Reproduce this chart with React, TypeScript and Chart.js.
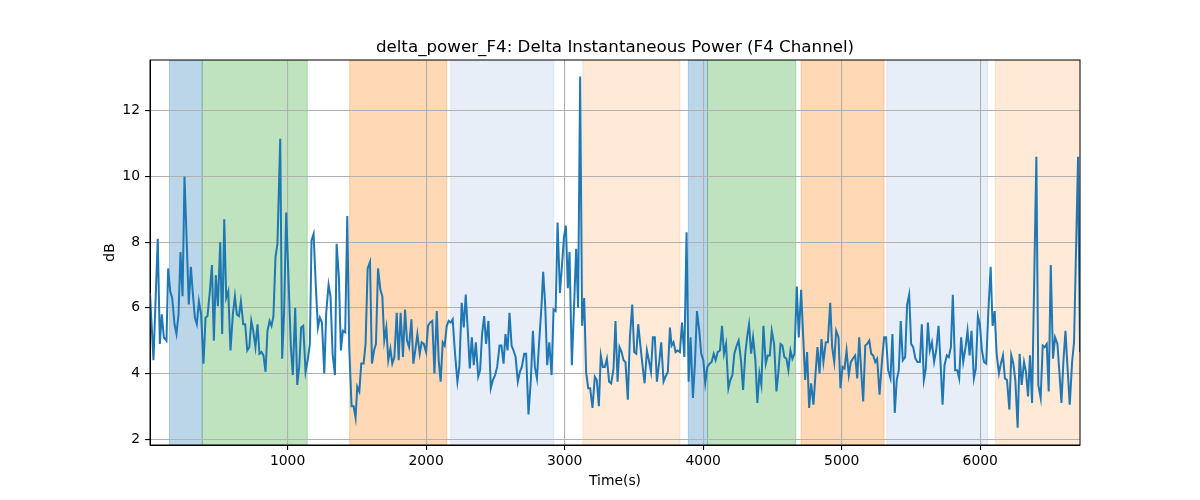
import React, { useEffect, useRef } from "react";
import { Chart, registerables, Plugin } from "chart.js";

Chart.register(...registerables);

const times: number[] = [
  7, 32, 63, 78, 92, 107, 126, 138, 153, 167, 184, 198, 213, 227, 242, 256, 273, 287, 302, 316,
  331, 345, 360, 376, 393, 408, 422, 439, 454, 468, 482, 497, 514, 528, 543, 557, 572, 588, 605, 620,
  634, 649, 663, 680, 694, 709, 724, 738, 752, 768, 783, 797, 812, 826, 841, 855, 870, 884, 898, 913,
  927, 947, 961, 975, 990, 1007, 1024, 1038, 1055, 1070, 1084, 1098, 1113, 1130, 1147, 1161, 1173, 1188, 1204, 1219,
  1233, 1248, 1265, 1279, 1296, 1310, 1325, 1342, 1354, 1370, 1385, 1399, 1416, 1431, 1445, 1462, 1477, 1491, 1503, 1518,
  1532, 1549, 1563, 1578, 1595, 1609, 1624, 1638, 1653, 1670, 1684, 1698, 1713, 1727, 1742, 1756, 1771, 1788, 1802, 1816,
  1833, 1848, 1862, 1877, 1894, 1908, 1922, 1937, 1954, 1968, 1983, 2000, 2014, 2028, 2045, 2060, 2077, 2091, 2105, 2120,
  2134, 2149, 2163, 2178, 2192, 2207, 2226, 2240, 2257, 2272, 2286, 2301, 2315, 2330, 2344, 2359, 2376, 2390, 2404, 2419,
  2433, 2450, 2467, 2482, 2498, 2513, 2530, 2544, 2559, 2573, 2588, 2602, 2617, 2631, 2646, 2662, 2677, 2691, 2708, 2722,
  2739, 2756, 2771, 2785, 2800, 2816, 2833, 2845, 2860, 2874, 2889, 2906, 2920, 2935, 2949, 2966, 2980, 2995, 3009, 3023,
  3035, 3052, 3068, 3083, 3097, 3112, 3126, 3141, 3155, 3170, 3184, 3201, 3218, 3232, 3247, 3261, 3276, 3290, 3305, 3321,
  3336, 3353, 3367, 3382, 3396, 3411, 3425, 3439, 3456, 3471, 3488, 3502, 3517, 3531, 3548, 3562, 3577, 3594, 3608, 3623,
  3637, 3651, 3666, 3683, 3697, 3714, 3728, 3745, 3760, 3772, 3786, 3801, 3815, 3832, 3847, 3864, 3880, 3895, 3909, 3926,
  3941, 3955, 3972, 3986, 4001, 4015, 4030, 4047, 4061, 4076, 4090, 4105, 4121, 4136, 4150, 4165, 4182, 4196, 4211, 4225,
  4242, 4256, 4273, 4288, 4304, 4317, 4331, 4346, 4360, 4377, 4391, 4406, 4420, 4435, 4452, 4466, 4481, 4495, 4512, 4529,
  4543, 4558, 4572, 4586, 4601, 4615, 4630, 4644, 4659, 4676, 4690, 4707, 4721, 4736, 4750, 4765, 4779, 4796, 4811, 4825,
  4840, 4854, 4868, 4885, 4900, 4917, 4931, 4946, 4960, 4977, 4991, 5006, 5020, 5035, 5051, 5066, 5080, 5097, 5112, 5126,
  5141, 5155, 5170, 5184, 5199, 5213, 5227, 5242, 5256, 5273, 5291, 5306, 5320, 5335, 5352, 5366, 5383, 5397, 5412, 5426,
  5441, 5458, 5472, 5487, 5501, 5516, 5532, 5547, 5564, 5578, 5593, 5607, 5622, 5636, 5651, 5667, 5682, 5699, 5713, 5728,
  5742, 5759, 5773, 5788, 5802, 5819, 5834, 5848, 5862, 5877, 5894, 5908, 5923, 5937, 5954, 5968, 5983, 5997, 6012, 6027,
  6043, 6058, 6075, 6089, 6104, 6118, 6135, 6149, 6164, 6178, 6193, 6210, 6224, 6239, 6253, 6270, 6284, 6299, 6316, 6330,
  6345, 6359, 6374, 6405, 6419, 6436, 6451, 6465, 6480, 6494, 6509, 6525, 6540, 6557, 6571, 6586, 6600, 6615, 6631, 6646,
  6663, 6677, 6706, 6720,
];

const power: number[] = [
  6.45, 4.4, 8.1, 4.9, 5.8, 5.1, 5.0, 7.2, 6.5, 6.3, 5.5, 5.2, 5.8, 7.7, 6.35, 10.0, 7.9, 6.1, 7.25, 6.45,
  5.7, 5.5, 6.2, 5.8, 4.3, 5.7, 5.75, 6.5, 7.3, 5.0, 7.0, 6.05, 8.0, 5.2, 8.7, 6.3, 6.5, 4.7, 5.8, 6.35,
  5.8, 5.75, 6.2, 5.5, 5.5, 4.7, 4.8, 5.6, 5.3, 4.8, 5.5, 4.6, 4.65, 4.55, 4.05, 5.3, 5.6, 5.45, 5.75, 7.55,
  7.95, 11.15, 4.45, 5.85, 8.9, 6.85, 4.8, 3.95, 6.0, 3.65, 4.2, 5.4, 5.45, 4.05, 4.45, 4.9, 8.05, 8.25, 6.65, 5.4,
  5.7, 5.55, 4.0, 5.85, 6.7, 6.35, 4.6, 3.95, 7.95, 6.95, 4.7, 5.3, 5.25, 8.8, 4.8, 3.0, 3.0, 2.65, 3.6, 3.45,
  4.3, 4.3, 4.9, 7.2, 7.4, 4.3, 4.7, 4.9, 7.2, 6.55, 6.35, 5.0, 5.4, 4.4, 4.75, 4.3, 4.5, 5.85, 4.4, 5.85,
  4.5, 5.95, 5.0, 4.8, 5.65, 4.3, 4.7, 5.2, 4.6, 4.95, 4.9, 4.65, 5.45, 5.55, 5.6, 4.0, 5.9, 4.4, 3.75, 4.95,
  4.85, 5.45, 5.6, 5.55, 5.65, 4.7, 3.75, 4.2, 6.15, 5.4, 6.4, 5.3, 4.15, 5.1, 4.25, 4.95, 3.9, 4.1, 5.2, 5.75,
  4.9, 5.6, 3.55, 3.8, 3.95, 4.2, 4.85, 4.85, 4.3, 5.2, 4.7, 5.85, 4.85, 4.7, 4.5, 3.75, 4.05, 4.2, 4.6, 4.6,
  2.75, 3.8, 5.3, 4.2, 3.85, 4.95, 6.05, 7.1, 6.05, 4.25, 4.95, 3.95, 5.95, 5.9, 8.6, 6.45, 7.25, 8.15, 8.5, 6.6,
  7.7, 4.25, 6.05, 7.8, 6.0, 13.05, 5.45, 6.3, 4.05, 3.55, 3.55, 2.95, 3.9, 3.8, 3.0, 4.55, 4.2, 4.2, 4.45, 3.75,
  3.7, 4.15, 5.6, 3.75, 4.8, 4.65, 4.4, 4.35, 3.2, 5.1, 6.1, 4.65, 4.6, 5.5, 4.8, 4.25, 3.7, 4.7, 4.4, 4.05,
  5.1, 5.1, 3.75, 4.35, 4.95, 3.75, 3.9, 4.05, 5.4, 4.85, 4.95, 4.65, 4.7, 4.65, 5.55, 4.5, 8.3, 3.75, 5.1, 3.25,
  4.35, 5.9, 5.3, 4.6, 4.4, 3.7, 4.2, 4.3, 4.35, 4.6, 4.4, 4.65, 4.7, 5.45, 4.6, 4.9, 3.55, 3.8, 3.95, 4.6,
  4.85, 5.0, 4.4, 3.5, 4.6, 5.1, 5.5, 4.6, 5.1, 4.4, 3.1, 4.0, 3.65, 5.45, 4.3, 4.55, 4.55, 5.3, 4.9, 3.45,
  4.05, 4.9, 4.85, 4.5, 4.45, 4.1, 4.7, 4.45, 4.6, 6.65, 5.1, 6.55, 5.2, 3.8, 4.65, 2.95, 3.7, 3.05, 4.0, 4.8,
  4.0, 5.05, 4.35, 4.95, 4.95, 6.15, 4.8, 4.35, 5.3, 5.1, 3.55, 4.2, 4.15, 4.7, 3.95, 4.35, 4.45, 4.55, 3.85, 5.1,
  4.05, 3.15, 4.85, 4.9, 5.0, 4.6, 4.55, 4.35, 4.45, 3.35, 4.4, 5.1, 5.1, 4.1, 3.85, 5.2, 2.8, 3.8, 4.1, 5.6,
  4.4, 4.5, 6.1, 6.4, 4.9, 4.8, 4.45, 4.35, 4.35, 5.5, 3.8, 4.15, 5.55, 4.7, 4.95, 4.35, 4.7, 5.45, 4.35, 3.05,
  4.25, 4.55, 4.5, 4.8, 6.4, 4.1, 4.1, 3.85, 5.1, 4.35, 4.8, 5.3, 4.55, 5.3, 3.85, 4.15, 5.75, 5.5, 4.7, 4.35,
  4.3, 5.85, 7.25, 5.45, 5.9, 4.6, 4.0, 4.3, 4.55, 3.85, 3.8, 2.9, 4.55, 4.3, 3.8, 2.35, 4.6, 3.65, 4.35, 4.05,
  3.3, 4.55, 3.1, 10.6, 3.65, 3.25, 4.85, 4.8, 4.9, 3.45, 7.3, 4.45, 5.1, 4.9, 4.05, 3.1, 4.35, 5.3, 4.1, 3.05,
  4.35, 4.95, 10.6, 4.65,
];

const xTicks: number[] = [1000, 2000, 3000, 4000, 5000, 6000];
const yTicks: number[] = [2, 4, 6, 8, 10, 12];

// shaded stage intervals [start, end] in seconds
const spanStarts: number[] = [147, 384, 1448, 2178, 3131, 3893, 4032, 4707, 5326, 6108];
const spanEnds: number[] = [384, 1142, 2149, 2922, 3832, 4032, 4668, 5306, 6053, 6730];
const spanColors: string[] = [
  "rgba(31,119,180,0.3)",
  "rgba(44,160,44,0.3)",
  "rgba(255,127,14,0.3)",
  "rgba(174,199,232,0.3)",
  "rgba(255,127,14,0.16)",
  "rgba(31,119,180,0.3)",
  "rgba(44,160,44,0.3)",
  "rgba(255,127,14,0.3)",
  "rgba(174,199,232,0.3)",
  "rgba(255,127,14,0.16)",
];

const FONT = "'DejaVu Sans', sans-serif";

const spansPlugin: Plugin<"line"> = {
  id: "spans",
  beforeDraw(chart) {
    const { ctx, chartArea, scales } = chart;
    const x = scales.x;
    ctx.save();
    ctx.beginPath();
    ctx.rect(chartArea.left, chartArea.top, chartArea.right - chartArea.left, chartArea.bottom - chartArea.top);
    ctx.clip();
    spanStarts.forEach((s, i) => {
      const x0 = x.getPixelForValue(s);
      const x1 = x.getPixelForValue(spanEnds[i]);
      ctx.fillStyle = spanColors[i];
      ctx.strokeStyle = spanColors[i];
      ctx.lineWidth = 1;
      ctx.fillRect(x0, chartArea.top, x1 - x0, chartArea.bottom - chartArea.top);
      ctx.strokeRect(x0, chartArea.top, x1 - x0, chartArea.bottom - chartArea.top);
    });
    ctx.restore();
  },
};

const labelsPlugin: Plugin<"line"> = {
  id: "labels",
  afterDraw(chart) {
    const { ctx, chartArea } = chart;
    const cx = (chartArea.left + chartArea.right) / 2;
    const cy = (chartArea.top + chartArea.bottom) / 2;
    ctx.save();
    // spines
    ctx.strokeStyle = "#000";
    ctx.lineWidth = 1;
    ctx.strokeRect(chartArea.left, chartArea.top, chartArea.right - chartArea.left, chartArea.bottom - chartArea.top);
    ctx.fillStyle = "#000";
    ctx.textAlign = "center";
    ctx.font = `16.7px ${FONT}`;
    ctx.textBaseline = "alphabetic";
    ctx.fillText("delta_power_F4: Delta Instantaneous Power (F4 Channel)", cx, chartArea.top - 8);
    ctx.font = `13.9px ${FONT}`;
    ctx.textBaseline = "middle";
    ctx.fillText("Time(s)", cx, 481);
    ctx.translate(110, cy);
    ctx.rotate(-Math.PI / 2);
    ctx.fillText("dB", 0, 0);
    ctx.restore();
  },
};

export default function App() {
  const canvasRef = useRef<HTMLCanvasElement | null>(null);

  useEffect(() => {
    const ctx = canvasRef.current?.getContext("2d");
    if (!ctx) return;
    const chart = new Chart(ctx, {
      type: "line",
      data: {
        datasets: [
          {
            label: "delta_power_F4",
            data: times.map((t, i) => ({ x: t, y: power[i] })),
            borderColor: "#1f77b4",
            borderWidth: 2,
            pointRadius: 0,
            tension: 0,
            fill: false,
          },
        ],
      },
      options: {
        responsive: false,
        animation: false,
        devicePixelRatio: 1,
        layout: { padding: { top: 60, right: 120, left: 0, bottom: 0 } },
        plugins: {
          legend: { display: false },
          title: { display: false },
          tooltip: { enabled: false },
        },
        scales: {
          x: {
            type: "linear",
            min: 7,
            max: 6720,
            afterFit: (scale) => {
              scale.height = 55;
            },
            afterBuildTicks: (scale) => {
              scale.ticks = xTicks.map((v) => ({ value: v }));
            },
            ticks: {
              autoSkip: false,
              color: "#000",
              font: { family: FONT, size: 13.9 },
              padding: 3,
              maxRotation: 0,
              callback: (v) => String(v),
            },
            grid: {
              color: "#b0b0b0",
              lineWidth: 1.1,
              tickColor: "#000",
              tickLength: 5,
            },
            border: { color: "#000", width: 1 },
          },
          y: {
            type: "linear",
            min: 1.82,
            max: 13.55,
            afterFit: (scale) => {
              scale.width = 150;
            },
            afterBuildTicks: (scale) => {
              scale.ticks = yTicks.map((v) => ({ value: v }));
            },
            ticks: {
              autoSkip: false,
              color: "#000",
              font: { family: FONT, size: 13.9 },
              padding: 5,
              callback: (v) => String(v),
            },
            grid: {
              color: "#b0b0b0",
              lineWidth: 1.1,
              tickColor: "#000",
              tickLength: 5,
            },
            border: { color: "#000", width: 1 },
          },
        },
      },
      plugins: [spansPlugin, labelsPlugin],
    });
    return () => chart.destroy();
  }, []);

  return (
    <div style={{ position: "absolute", left: 0, top: 0, width: 1200, height: 500, background: "#fff" }}>
      <canvas ref={canvasRef} width={1200} height={500} />
    </div>
  );
}
